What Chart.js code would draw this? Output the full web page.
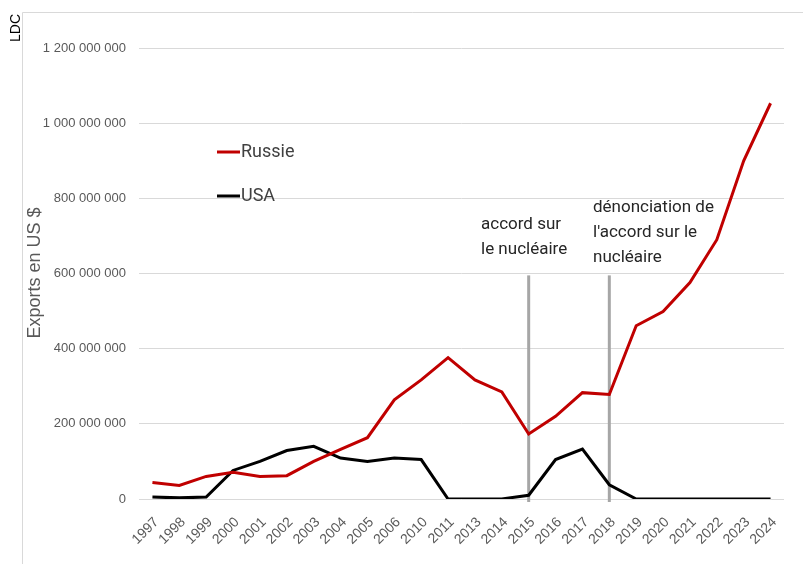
<!DOCTYPE html>
<html><head><meta charset="utf-8">
<script src="https://cdn.jsdelivr.net/npm/chart.js@4.4.1/dist/chart.umd.min.js"></script>
<style>html,body{margin:0;padding:0;background:#fff;}#wrap{width:803px;height:564px;position:relative;}</style>
</head><body><div id="wrap"><canvas id="c" width="803" height="564"></canvas></div>
<script>
const years = ['1997','1998','1999','2000','2001','2002','2003','2004','2005','2006','2010','2011','2013','2014','2015','2016','2017','2018','2019','2020','2021','2022','2023','2024'];
const russie = [44e6,36e6,60e6,71e6,60e6,62e6,100e6,132e6,163e6,264e6,317e6,376e6,317e6,285e6,173e6,220e6,283e6,278e6,461e6,499e6,576e6,690e6,900e6,1053e6];
const usa = [5e6,3e6,5e6,76e6,100e6,129e6,140e6,109e6,100e6,109e6,105e6,0,0,0,10e6,105e6,133e6,38e6,0,0,0,0,0,0];
const yTicks = [0,200e6,400e6,600e6,800e6,1000e6,1200e6];
const seriesNames = ['Russie','USA'];
const yTitle = 'Exports en US $';
const sideLabel = 'LDC';
const markerYears = ['2015','2018'];
const markerTop = 595e6;
const markerBottom = -8e6;
const noteAccord = ['accord sur','le nucléaire'];
const noteDenon = ['dénonciation de',"l'accord sur le",'nucléaire'];

function fmt(v){return String(Math.round(v)).replace(/\B(?=(\d{3})+(?!\d))/g,' ');}

const deco = {
  id:'deco',
  beforeDraw(chart){
    const ctx=chart.ctx;
    ctx.save();
    ctx.fillStyle='#fff';ctx.fillRect(0,0,chart.width,chart.height);
    ctx.strokeStyle='#d9d9d9';ctx.lineWidth=1;
    ctx.beginPath();ctx.moveTo(22.5,564);ctx.lineTo(22.5,12.5);ctx.lineTo(803,12.5);ctx.stroke();
    ctx.restore();
  },
  beforeDatasetsDraw(chart){
    const ctx=chart.ctx, xs=chart.scales.x, ys=chart.scales.y;
    ctx.save();
    ctx.strokeStyle='#a6a6a6';ctx.lineWidth=3;
    markerYears.forEach(y=>{
      const x=xs.getPixelForValue(years.indexOf(y));
      ctx.beginPath();ctx.moveTo(x,ys.getPixelForValue(markerTop));ctx.lineTo(x,ys.getPixelForValue(markerBottom));ctx.stroke();
    });
    ctx.restore();
  },
  afterDraw(chart){
    const ctx=chart.ctx;
    ctx.save();
    ctx.fillStyle='#000';ctx.font='14px "Liberation Sans", Arial, sans-serif';
    ctx.translate(20,14);ctx.rotate(-Math.PI/2);ctx.textAlign='right';ctx.textBaseline='alphabetic';
    ctx.fillText(sideLabel,0,0);
    ctx.restore();
    ctx.save();
    ctx.fillStyle='#595959';ctx.font='18px "Liberation Sans", Arial, sans-serif';
    ctx.translate(40,273);ctx.rotate(-Math.PI/2);ctx.textAlign='center';ctx.textBaseline='alphabetic';
    ctx.fillText(yTitle,0,0);
    ctx.restore();
    ctx.save();
    const cols=['#c00000','#000000'];
    const ly=[152,196];
    ctx.lineWidth=3;
    ctx.font='18px Roboto, sans-serif';ctx.textBaseline='middle';ctx.textAlign='left';
    seriesNames.forEach((n,i)=>{
      ctx.strokeStyle=cols[i];ctx.beginPath();ctx.moveTo(217,ly[i]);ctx.lineTo(240,ly[i]);ctx.stroke();
      ctx.fillStyle='#404040';ctx.fillText(n,241,ly[i]);
    });
    ctx.fillStyle='#262626';ctx.font='17px Roboto, sans-serif';ctx.textBaseline='alphabetic';
    noteAccord.forEach((t,i)=>ctx.fillText(t,481,229+i*25));
    noteDenon.forEach((t,i)=>ctx.fillText(t,593,212+i*25));
    ctx.restore();
  }
};

new Chart(document.getElementById('c'),{
  type:'line',
  data:{labels:years,datasets:[
    {label:seriesNames[0],data:russie,borderColor:'#c00000',borderWidth:3,pointRadius:0,tension:0,fill:false},
    {label:seriesNames[1],data:usa,borderColor:'#000000',borderWidth:3,pointRadius:0,tension:0,fill:false}
  ]},
  options:{
    responsive:false,animation:false,devicePixelRatio:1,
    layout:{padding:{top:48,right:19,left:0,bottom:0}},
    plugins:{legend:{display:false},tooltip:{enabled:false}},
    scales:{
      x:{offset:true,grid:{display:false,drawTicks:false},border:{display:false},
        afterFit(s){s.height=65;},
        ticks:{minRotation:45,maxRotation:45,autoSkip:false,padding:15,labelOffset:4,color:'#595959',font:{family:'"Liberation Sans", Arial, sans-serif',size:14}}},
      y:{min:0,max:1200e6,
        afterFit(s){s.width=139;},
        afterBuildTicks(s){s.ticks=yTicks.map(v=>({value:v}));},
        grid:{color:'#d9d9d9',lineWidth:1,drawTicks:false},border:{display:false},
        ticks:{padding:13,color:'#595959',font:{family:'"Liberation Sans", Arial, sans-serif',size:13},callback:v=>fmt(v)}}
    }
  },
  plugins:[deco]
});
</script></body></html>
